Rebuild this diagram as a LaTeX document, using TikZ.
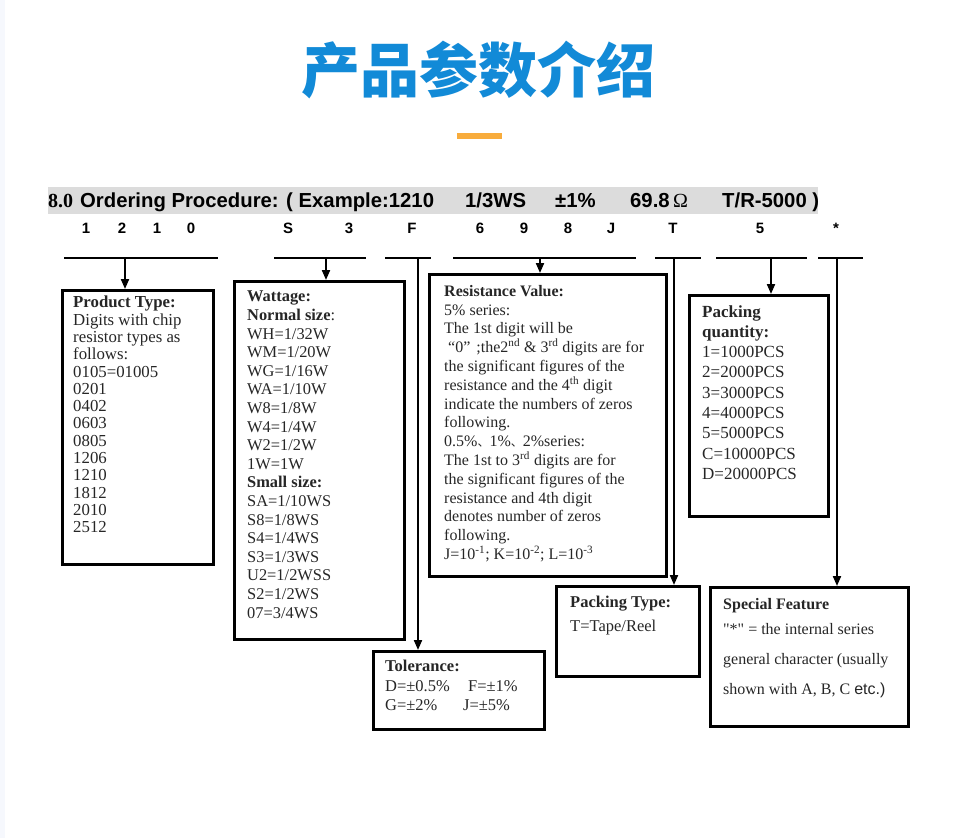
\documentclass[tikz,border=0pt]{standalone}
\usepackage{fontspec}
\setmainfont{Liberation Serif}
\newfontfamily\plainserif{Liberation Serif}
\newfontfamily\arialfont{Liberation Sans}
\newfontfamily\cjk{Noto Sans CJK SC}
\usepackage{tikz}
\usetikzlibrary{shapes,arrows,arrows.meta,calc}
\definecolor{titleblue}{RGB}{18,138,215}
\definecolor{accent}{RGB}{248,172,60}
\definecolor{band}{RGB}{220,220,220}
\definecolor{edgeblue}{RGB}{246,248,253}
\tikzset{
  code box/.style={draw=black,line width=2.8pt,anchor=north west,inner sep=0pt},
  box text/.style={anchor=north west,align=left,inner sep=0pt,text=black!85},
  head text/.style={anchor=base west,inner sep=0pt,font=\arialfont\bfseries\fontsize{20.3}{22}\selectfont},
  digit/.style={anchor=base,inner sep=0pt,font=\arialfont\bfseries\fontsize{15}{18}\selectfont},
  bracket/.style={line width=2pt},
  feed/.style={line width=2pt,-{Triangle[length=10pt,width=8pt]}},
}

\begin{document}
\begin{tikzpicture}[x=1pt,y=-1pt]
        \useasboundingbox (0,0) rectangle (953,838);
        \fill[edgeblue] (0,0) rectangle (5,838);

        % title
        \node[font=\cjk\bfseries\fontsize{59}{64}\selectfont,text=titleblue] (title) at (478,70) {产品参数介绍};
        \fill[accent] (457,133) rectangle (502,139);

        % ordering line
        \fill[band] (48,187) rectangle (818,214);
        \node[head text,font=\bfseries\fontsize{20}{22}\selectfont] (hnum) at (48,207) {8.0};
        \node[head text] (hproc) at (80,207) {Ordering Procedure: ( Example:1210};
        \node[head text] (hwatt) at (465,207) {1/3WS};
        \node[head text] (htol) at (555,207) {±1\%};
        \node[head text] (hval) at (630,207) {69.8\,{\normalfont\fontsize{20}{22}\selectfont Ω}};
        \node[head text] (hpack) at (722,207) {T/R-5000 )};

        \foreach \d/\x [count=\i] in {1/86,2/122,1/157,0/191,S/288,3/349,F/412,6/480,9/524,8/568,J/611,T/673,5/760,*/836}
            \node[digit] (digit\i) at (\x,233) {\d};

        % boxes
        \node[code box,minimum width=151pt,minimum height=274pt] (ptype) at (61,289) {};
        \node[code box,minimum width=170pt,minimum height=358pt] (watt) at (233,280) {};
        \node[code box,minimum width=237pt,minimum height=302pt] (resval) at (428,273) {};
        \node[code box,minimum width=171pt,minimum height=78pt] (tol) at (372,650) {};
        \node[code box,minimum width=143pt,minimum height=90pt] (ptape) at (555,585) {};
        \node[code box,minimum width=139pt,minimum height=221pt] (pqty) at (688,294) {};
        \node[code box,minimum width=198pt,minimum height=139pt] (special) at (709,586) {};

        \node[box text,font=\fontsize{16.8}{17.3}\selectfont] (ptypetext) at (73,296) {
            \textbf{Product Type:}\\ Digits with chip\\ resistor types as\\ follows:\\
            0105=01005\\ 0201\\ 0402\\ 0603\\ 0805\\ 1206\\ 1210\\ 1812\\ 2010\\ 2512};
        \node[box text,font=\fontsize{16.4}{18.6}\selectfont] (watttext) at (247,291) {
            \textbf{Wattage:}\\ \textbf{Normal size}:\\ WH=1/32W\\ WM=1/20W\\ WG=1/16W\\ WA=1/10W\\
            W8=1/8W\\ W4=1/4W\\ W2=1/2W\\ 1W=1W\\ \textbf{Small size:}\\ SA=1/10WS\\ S8=1/8WS\\
            S4=1/4WS\\ S3=1/3WS\\ U2=1/2WSS\\ S2=1/2WS\\ 07=3/4WS};
        \node[box text,font=\fontsize{16}{18.8}\selectfont] (resvaltext) at (444,285) {
            \textbf{Resistance Value:}\\ 5\% series:\\ The 1st digit will be\\
            \hspace{4pt}“0”\hspace{6pt};the2\textsuperscript{nd} \& 3\textsuperscript{rd} digits are for\\
            the significant figures of the\\ resistance and the 4\textsuperscript{th} digit\\
            indicate the numbers of zeros\\ following.\\
            0.5\%{\cjk\fontsize{12}{12}\selectfont 、}1\%{\cjk\fontsize{12}{12}\selectfont 、}2\%series:\\
            The 1st to 3\textsuperscript{rd} digits are for\\ the significant figures of the\\
            resistance and 4th digit\\ denotes number of zeros\\ following.\\
            J=10\textsuperscript{-1}; K=10\textsuperscript{-2}; L=10\textsuperscript{-3}};
        \node[box text,font=\fontsize{16.5}{19.5}\selectfont] (toltext) at (385,660) {
            \textbf{Tolerance:}\\ \makebox[83pt][l]{D=±0.5\%}F=±1\%\\ \makebox[78pt][l]{G=±2\%}J=±5\%};
        \node[box text,font=\fontsize{16.5}{24}\selectfont] (ptapetext) at (570,596) {
            \textbf{Packing Type:}\\ T=Tape/Reel};
        \node[box text,font=\fontsize{17}{20.3}\selectfont] (pqtytext) at (702,305) {
            \textbf{Packing}\\ \textbf{quantity:}\\ 1=1000PCS\\ 2=2000PCS\\ 3=3000PCS\\
            4=4000PCS\\ 5=5000PCS\\ C=10000PCS\\ D=20000PCS};
        \node[box text,font=\fontsize{16}{30}\selectfont] (specialtext) at (723,598) {
            \textbf{Special Feature}\\[-5pt] {\plainserif "*"} = the internal series\\ general character (usually\\
            shown with A, B, C {\arialfont etc.)}};

        % brackets and connectors
        \coordinate (b1w) at (64,258);  \coordinate (b1e) at (218,258); \coordinate (b1) at (125,258);
        \coordinate (b2w) at (274,258); \coordinate (b2e) at (366,258); \coordinate (b2) at (326,258);
        \coordinate (b3w) at (385,258); \coordinate (b3e) at (431,258); \coordinate (b3) at (418,258);
        \coordinate (b4w) at (453,258); \coordinate (b4e) at (636,258); \coordinate (b4) at (540,258);
        \coordinate (b5w) at (655,258); \coordinate (b5e) at (701,258); \coordinate (b5) at (674,258);
        \coordinate (b6w) at (716,258); \coordinate (b6e) at (807,258); \coordinate (b6) at (771,258);
        \coordinate (b7w) at (818,258); \coordinate (b7e) at (863,258); \coordinate (b7) at (837,258);
        \foreach \b in {b1,b2,b3,b4,b5,b6,b7}
            \draw[bracket] (\b w) -- (\b e);
        \draw[feed] (b1) -- (b1 |- ptype.north);
        \draw[feed] (b2) -- (b2 |- watt.north);
        \draw[feed] (b3) -- (b3 |- tol.north);
        \draw[feed] (b4) -- (b4 |- resval.north);
        \draw[feed] (b5) -- (b5 |- ptape.north);
        \draw[feed] (b6) -- (b6 |- pqty.north);
        \draw[feed] (b7) -- (b7 |- special.north);
    \end{tikzpicture}
\end{document}
